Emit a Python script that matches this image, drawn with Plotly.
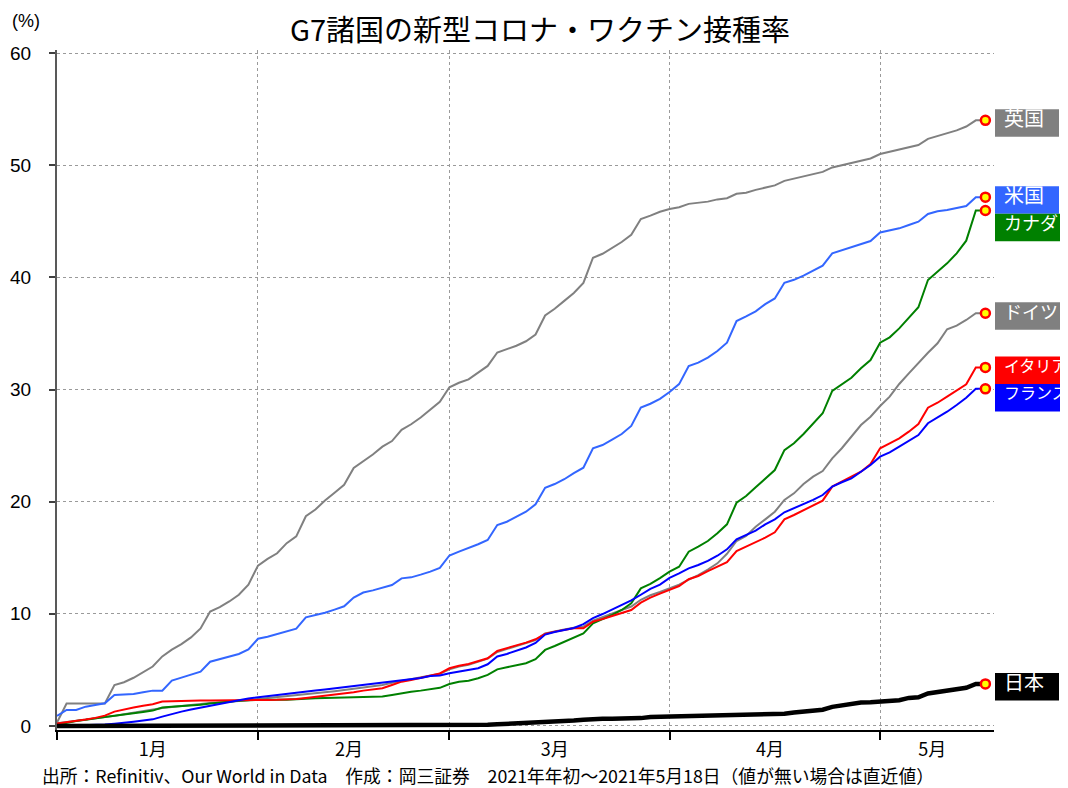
import pandas as pd
import plotly.graph_objects as go

# ---------------- data ----------------
dates = pd.bdate_range("2021-01-01", "2021-05-18")
date_labels = [d.strftime("%Y-%m-%d") for d in dates]

uk = [0.3, 2.0, 2.0, 2.0, 2.0, 2.0,
      3.65, 3.9, 4.3, 4.8, 5.3, 6.2, 6.8, 7.3, 7.9, 8.7, 10.2, 10.6, 11.1, 11.7, 12.6,
      14.3, 14.9, 15.4, 16.3, 16.9, 18.7, 19.3, 20.1, 20.8, 21.5,
      23.0, 23.6, 24.2, 24.9, 25.4, 26.4, 26.9, 27.5, 28.2, 28.9,
      30.2, 30.6, 30.9, 31.5, 32.1, 33.3, 33.6, 33.9, 34.3, 34.9,
      36.6, 37.2, 37.9, 38.6, 39.5, 41.75, 42.1, 42.6, 43.15, 43.8,
      45.2, 45.5, 45.85, 46.1, 46.25, 46.55, 46.65, 46.75, 46.95, 47.05,
      47.45, 47.55, 47.8, 48.0, 48.2, 48.6, 48.8, 49.0, 49.2, 49.4,
      49.8, 50.0, 50.2, 50.4, 50.6, 51.0, 51.2, 51.4, 51.6, 51.8,
      52.35, 52.6, 52.8, 53.1, 53.45, 54.0, 54.0]

us = [0.9, 1.43, 1.43, 1.72, 1.87, 2.02, 2.76, 2.82, 2.85, 3.0, 3.15,
      3.15, 4.04, 4.31, 4.6, 4.84, 5.73, 5.94, 6.18, 6.42, 6.83,
      7.78, 7.96, 8.19, 8.41, 8.68, 9.68, 9.87, 10.09, 10.37, 10.67,
      11.45, 11.9, 12.09, 12.3, 12.57, 13.16, 13.25, 13.49, 13.76, 14.1,
      15.2, 15.54, 15.84, 16.2, 16.58, 17.92, 18.21, 18.66, 19.1, 19.76,
      21.23, 21.57, 22.0, 22.55, 23.03, 24.76, 25.05, 25.53, 26.03, 26.75,
      28.38, 28.73, 29.17, 29.78, 30.48, 32.1, 32.4, 32.85, 33.43, 34.17,
      36.1, 36.52, 36.97, 37.61, 38.12, 39.51, 39.78, 40.15, 40.56, 41.04,
      42.14, 42.4, 42.7, 42.97, 43.24, 44.0, 44.16, 44.37, 44.67, 44.96,
      45.65, 45.9, 46.0, 46.15, 46.36, 47.15, 47.15]

canada = [0.1, 0.3, 0.45, 0.55, 0.65, 0.8, 0.92, 1.05, 1.15, 1.25,
          1.37, 1.64, 1.72, 1.77, 1.82, 1.9, 2.0, 2.1, 2.15, 2.25,
          2.3, 2.33, 2.33, 2.33, 2.34, 2.36, 2.42, 2.46, 2.5, 2.52,
          2.55, 2.57, 2.59, 2.61, 2.63, 2.76, 2.92, 3.05, 3.15, 3.25,
          3.4, 3.74, 3.95, 4.04, 4.25, 4.55, 5.05, 5.23, 5.41, 5.59,
          5.95, 6.78, 7.13, 7.52, 7.9, 8.26, 9.15, 9.51, 9.9, 10.34,
          10.94, 12.27, 12.66, 13.18, 13.76, 14.2, 15.54, 15.99, 16.49, 17.18,
          17.98, 19.9, 20.5, 21.28, 22.08, 22.82, 24.6, 25.2, 26.03, 26.92,
          27.88, 29.87, 30.5, 31.05, 31.9, 32.63, 34.17, 34.65, 35.45, 36.35,
          37.33, 39.76, 40.5, 41.25, 42.14, 43.27, 45.96, 45.96]

germany = [0.25, 0.35, 0.45, 0.55, 0.65, 0.75, 0.9, 1.05, 1.2, 1.35,
           1.45, 1.6, 1.7, 1.8, 1.9, 2.0, 2.05, 2.1, 2.15, 2.2,
           2.3, 2.4, 2.48, 2.56, 2.64, 2.72, 2.8, 2.9, 3.0, 3.1,
           3.2, 3.3, 3.4, 3.5, 3.65, 3.85, 4.0, 4.15, 4.3, 4.45,
           4.65, 5.05, 5.3, 5.45, 5.75, 6.0, 6.6, 6.85, 7.15, 7.35,
           7.65, 8.25, 8.45, 8.6, 8.75, 8.85, 9.4, 9.7, 10.0, 10.3,
           10.65, 11.25, 11.65, 11.95, 12.25, 12.6, 13.05, 13.45, 13.95, 14.5,
           15.35, 16.49, 16.94, 17.77, 18.42, 19.1, 20.15, 20.74, 21.57, 22.23,
           22.73, 23.86, 24.76, 25.8, 26.83, 27.57, 28.53, 29.36, 30.49, 31.44,
           32.39, 33.28, 34.12, 35.37, 35.69, 36.2, 36.8, 36.8]

italy = [0.22, 0.32, 0.45, 0.58, 0.72, 0.92, 1.28, 1.49, 1.64, 1.81,
         1.93, 2.17, 2.2, 2.24, 2.26, 2.26, 2.26, 2.26, 2.26, 2.26,
         2.28, 2.32, 2.32, 2.33, 2.35, 2.4, 2.5, 2.6, 2.68, 2.77,
         2.85, 3.0, 3.15, 3.25, 3.36, 3.65, 3.95, 4.1, 4.3, 4.45,
         4.68, 5.14, 5.37, 5.53, 5.8, 6.04, 6.69, 6.93, 7.22, 7.43,
         7.73, 8.2, 8.41, 8.56, 8.71, 8.71, 9.3, 9.54, 9.81, 10.04,
         10.34, 11.0, 11.45, 11.8, 12.15, 12.48, 13.08, 13.37, 13.8, 14.18,
         14.6, 15.6, 15.99, 16.34, 16.79, 17.27, 18.42, 18.81, 19.26, 19.64,
         20.09, 21.34, 21.78, 22.17, 22.67, 23.36, 24.76, 25.2, 25.65, 26.24,
         26.92, 28.38, 28.82, 29.36, 29.95, 30.46, 31.97, 31.97]

france = [0.0, 0.02, 0.05, 0.07, 0.09, 0.12, 0.2, 0.27, 0.38, 0.48,
          0.59, 0.83, 1.07, 1.28, 1.46, 1.64, 1.81, 1.96, 2.12, 2.3,
          2.45, 2.56, 2.66, 2.76, 2.86, 2.96, 3.06, 3.16, 3.26, 3.36,
          3.46, 3.56, 3.66, 3.75, 3.85, 3.95, 4.05, 4.15, 4.28, 4.45,
          4.5, 4.7, 4.85, 4.95, 5.15, 5.5, 6.2, 6.42, 6.72, 7.0,
          7.4, 8.15, 8.38, 8.53, 8.73, 9.08, 9.62, 9.98, 10.36, 10.74,
          11.19, 11.7, 12.22, 12.6, 13.2, 13.6, 14.05, 14.35, 14.72, 15.18,
          15.75, 16.64, 17.03, 17.41, 17.98, 18.42, 19.05, 19.4, 19.79, 20.15,
          20.59, 21.34, 21.73, 22.08, 22.67, 23.27, 24.01, 24.4, 24.9, 25.41,
          25.94, 26.99, 27.49, 28.02, 28.62, 29.27, 30.06, 30.06]

japan = [0.0] * 33 + \
        [0.01, 0.01, 0.02, 0.02, 0.02, 0.03, 0.03, 0.04, 0.04, 0.05, 0.06, 0.08,
         0.1, 0.15, 0.18, 0.2, 0.25, 0.3, 0.33, 0.38, 0.45, 0.48,
         0.55, 0.62, 0.64, 0.65, 0.66, 0.68, 0.7, 0.8, 0.82, 0.83,
         0.85, 0.92, 0.93, 0.94, 0.95, 0.98, 0.99, 1.0, 1.0, 1.01,
         1.02, 1.1, 1.2, 1.3, 1.4, 1.45, 1.7, 1.85, 1.9, 2.1,
         2.12, 2.15, 2.2, 2.3, 2.5, 2.56, 2.9, 3.0, 3.1, 3.2,
         3.4, 3.75, 3.75]

country_names = ["英国", "米国", "ドイツ", "カナダ", "イタリア", "フランス", "日本"]
series_values = [uk, us, germany, canada, italy, france, japan]

title_text = "G7諸国の新型コロナ・ワクチン接種率"
unit_text = "(%)"
source_text = ("出所：Refinitiv、Our World in Data　作成：岡三証券　"
               "2021年年初～2021年5月18日（値が無い場合は直近値）")
y_ticks = [0, 10, 20, 30, 40, 50, 60]

# ---------------- style ----------------
colors = {"英国": "#808080", "米国": "#3366FF", "ドイツ": "#808080", "カナダ": "#008000",
          "イタリア": "#FF0000", "フランス": "#0000FF", "日本": "#000000"}
widths = {"日本": 4.5}
JP = "Noto Sans CJK JP"
LAT = "Liberation Sans"

OFF = 8                      # page body margin offset
W, H = 1068 - OFF, 788 - OFF
ML, MT = 57 - OFF, 50 - OFF  # plot left / top in figure pixels
PR, PB = 994 - OFF, 730 - OFF
MR, MB = W - PR, H - PB
PW, PH = PR - ML, PB - MT
Y_MIN, Y_MAX = -0.36, 60.27
X_MAX = len(date_labels) - 1 + 0.9
TXT_X = 8                    # label text offset right of plot edge
ROOM = W - PR - TXT_X - 2    # horizontal room for label text

# month boundaries (first business day of each month)
month_idx = [i for i, d in enumerate(dates) if i == 0 or d.month != dates[i - 1].month]
month_start_labels = [date_labels[i] for i in month_idx]
month_names = [f"{dates[i].month}月" for i in month_idx]
bounds = month_idx + [X_MAX]
month_label_pos = [(bounds[k] + bounds[k + 1]) / 2 - 0.5 for k in range(len(month_idx))]

fig = go.Figure()
for name, vals in zip(country_names, series_values):
    fig.add_trace(go.Scatter(x=date_labels, y=vals, mode="lines", name=name,
                             line=dict(color=colors[name], width=widths.get(name, 2)),
                             hoverinfo="x+y+name"))

# end markers
fig.add_trace(go.Scatter(x=[date_labels[-1]] * len(series_values),
                         y=[v[-1] for v in series_values], mode="markers",
                         marker=dict(symbol="circle", size=9, color="#FFFF00",
                                     line=dict(color="#FF0000", width=2.5)),
                         cliponaxis=False, hoverinfo="skip"))

# end labels (boxes + text), stacked to avoid overlap
def ypx(v):
    return MT + PH - (v - Y_MIN) / (Y_MAX - Y_MIN) * PH

BOX_H, BOX_UP, TXT_UP = 27.5, 11, 2.5
order = sorted(zip(country_names, series_values), key=lambda t: -t[1][-1])
prev_bottom = -1e9
shapes, annos = [], []
for name, vals in order:
    v = vals[-1]
    top = ypx(v) - BOX_UP
    push = max(0, prev_bottom - top)
    top += push
    prev_bottom = top + BOX_H
    kanji = all(ord(c) >= 0x4E00 for c in name)
    fsize = 20 if kanji else min(18, ROOM // len(name))
    bw = fsize * len(name) + 24
    shapes.append(dict(type="rect", xref="paper", xsizemode="pixel", xanchor=1,
                       x0=1, x1=1 + bw, yref="y", ysizemode="pixel", yanchor=v,
                       y0=BOX_UP - push - BOX_H, y1=BOX_UP - push,
                       fillcolor=colors[name], line=dict(width=0), layer="above"))
    annos.append(dict(text=name, xref="paper", x=1, xanchor="left", xshift=TXT_X,
                      yref="y", y=v, yanchor="middle", yshift=TXT_UP - push,
                      showarrow=False, font=dict(family=JP, size=fsize, color="white")))

annos.append(dict(text=unit_text, xref="paper", yref="paper", x=(10 - OFF - ML) / PW,
                  y=1 + 29 / PH, xanchor="left", yanchor="middle", showarrow=False,
                  font=dict(family=LAT, size=18, color="black")))
annos.append(dict(text=source_text, xref="paper", yref="paper", x=(40 - OFF - ML) / PW,
                  y=-(775 - 730) / PH, xanchor="left", yanchor="middle",
                  showarrow=False, font=dict(family=JP, size=17.8, color="black")))

grid = dict(showgrid=True, gridcolor="#9A9A9A", griddash="dot", gridwidth=1)

fig.update_layout(
    width=W, height=H, margin=dict(l=ML, r=MR, t=MT, b=MB, autoexpand=False),
    paper_bgcolor="white", plot_bgcolor="white", showlegend=False,
    title=dict(text=title_text, x=(540 - OFF) / W, xanchor="center", xref="container",
               y=1 - 23 / H, yanchor="middle", yref="container", automargin=False,
               font=dict(family=JP, size=29, color="black")),
    xaxis=dict(type="category", range=[0, X_MAX], tickmode="array", automargin=False,
               tickvals=month_start_labels, ticktext=[""] * len(month_start_labels),
               ticks="outside", ticklen=8, tickwidth=1.5, tickcolor="black",
               showline=True, linecolor="black", linewidth=2, zeroline=False, **grid),
    xaxis2=dict(overlaying="x", anchor="y", side="bottom", type="linear",
                range=[0, X_MAX], tickmode="array", tickvals=month_label_pos,
                ticktext=month_names, ticks="", showgrid=False, showline=False,
                zeroline=False, ticklabelstandoff=7, automargin=False,
                tickfont=dict(family=JP, size=18, color="black")),
    yaxis=dict(range=[Y_MIN, Y_MAX], tickmode="array", tickvals=y_ticks,
               ticks="outside", ticklen=6, tickwidth=2, tickcolor="#404040",
               showline=True, linecolor="#595959", linewidth=2, zeroline=False,
               ticklabelstandoff=14, automargin=False,
               tickfont=dict(family=LAT, size=19, color="black"), **grid),
    shapes=shapes, annotations=annos,
)
# dummy trace to activate xaxis2
fig.add_trace(go.Scatter(x=[0], y=[None], xaxis="x2", yaxis="y", showlegend=False,
                         hoverinfo="skip"))

fig.write_html("out.html")
